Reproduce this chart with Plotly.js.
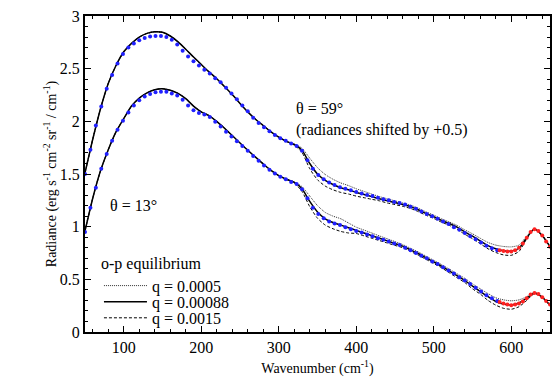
<!DOCTYPE html>
<html>
<head>
<meta charset="utf-8">
<script src="https://cdn.plot.ly/plotly-3.0.1.min.js"></script>
<style>html,body{margin:0;padding:0;background:#fff;}#chart{width:552px;height:379px;}</style>
</head>
<body>
<div id="chart"></div>
<script>
// Model wavenumber grid (cm^-1)
var xModel = [50,60,70,80,90,100,110,120,130,140,150,160,170,180,190,200,210,220,230,240,250,260,270,280,290,300,310,320,330,340,350,360,370,380,390,400,410,420,430,440,450,460,470,480,490,500,510,520,530,540,550,560,570,580,590,600,610,620,630,640,650];

// theta = 59 deg (shifted by +0.5)
var upperQ00088 = [1.51,1.83,2.12,2.36,2.53,2.66,2.74,2.80,2.835,2.85,2.845,2.81,2.755,2.685,2.61,2.54,2.47,2.405,2.33,2.255,2.17,2.09,2.02,1.96,1.90,1.85,1.81,1.78,1.725,1.60,1.50,1.44,1.40,1.37,1.35,1.325,1.305,1.285,1.265,1.245,1.23,1.21,1.19,1.16,1.125,1.095,1.06,1.03,0.995,0.95,0.91,0.865,0.82,0.79,0.772,0.768,0.795,0.895,0.98,0.915,0.81];
var upperQ0005 = [1.51,1.83,2.12,2.36,2.53,2.66,2.74,2.80,2.835,2.85,2.845,2.81,2.755,2.685,2.61,2.54,2.47,2.405,2.33,2.255,2.17,2.09,2.02,1.96,1.90,1.85,1.81,1.785,1.745,1.65,1.56,1.495,1.45,1.415,1.39,1.36,1.335,1.31,1.285,1.265,1.245,1.225,1.205,1.175,1.14,1.11,1.075,1.045,1.012,0.97,0.932,0.89,0.85,0.825,0.812,0.808,0.825,0.91,0.98,0.915,0.81];
var upperQ0015 = [1.51,1.83,2.12,2.36,2.53,2.66,2.74,2.80,2.835,2.85,2.845,2.81,2.755,2.685,2.61,2.54,2.47,2.405,2.33,2.255,2.17,2.09,2.02,1.96,1.90,1.85,1.81,1.775,1.705,1.55,1.445,1.385,1.35,1.325,1.31,1.29,1.275,1.26,1.245,1.225,1.21,1.193,1.173,1.143,1.108,1.078,1.043,1.013,0.975,0.928,0.885,0.838,0.79,0.755,0.732,0.728,0.765,0.885,0.98,0.915,0.81];

// theta = 13 deg
var lowerQ00088 = [0.96,1.27,1.53,1.73,1.90,2.025,2.145,2.22,2.27,2.30,2.31,2.295,2.265,2.215,2.145,2.09,2.055,2.00,1.935,1.865,1.795,1.725,1.66,1.595,1.535,1.485,1.45,1.42,1.36,1.24,1.14,1.075,1.04,1.015,0.99,0.965,0.94,0.915,0.89,0.865,0.84,0.815,0.78,0.745,0.705,0.665,0.625,0.58,0.535,0.49,0.435,0.385,0.335,0.29,0.265,0.256,0.275,0.32,0.37,0.33,0.256];
var lowerQ0005 = [0.96,1.27,1.53,1.73,1.90,2.025,2.145,2.22,2.27,2.30,2.31,2.295,2.265,2.215,2.145,2.09,2.055,2.00,1.935,1.865,1.795,1.725,1.66,1.595,1.535,1.485,1.45,1.425,1.38,1.29,1.20,1.135,1.10,1.075,1.035,0.995,0.968,0.94,0.912,0.885,0.858,0.83,0.795,0.76,0.72,0.68,0.64,0.597,0.553,0.51,0.457,0.41,0.365,0.325,0.305,0.296,0.305,0.335,0.375,0.335,0.26];
var lowerQ0015 = [0.96,1.27,1.53,1.73,1.90,2.025,2.145,2.22,2.27,2.30,2.31,2.295,2.265,2.215,2.145,2.09,2.055,2.00,1.935,1.865,1.795,1.725,1.66,1.595,1.535,1.485,1.45,1.415,1.335,1.19,1.08,1.015,0.98,0.955,0.94,0.935,0.913,0.89,0.868,0.845,0.822,0.80,0.765,0.73,0.69,0.65,0.61,0.563,0.515,0.47,0.41,0.36,0.30,0.255,0.225,0.216,0.24,0.30,0.365,0.325,0.25];

// Observations (blue part)
var xObsBlue = [50,57,64,71,78,85,92,99,106,113,120,127,134,141,148,155,162,169,176,183,190,197,204,211,218,225,232,239,246,253,260,267,274,281,288,295,302,309,316,323,330,337,344,351,358,365,372,379,386,393,400,407,414,421,428,435,442,449,456,463,470,477,484,491,498,505,512,519,526,533,540,547,554,561,568,575,582];
var upperObsBlue = [1.50,1.73,1.96,2.14,2.31,2.44,2.55,2.64,2.70,2.74,2.77,2.79,2.805,2.81,2.81,2.80,2.775,2.73,2.67,2.615,2.57,2.53,2.49,2.455,2.41,2.37,2.32,2.265,2.21,2.15,2.095,2.035,1.985,1.945,1.905,1.87,1.84,1.815,1.79,1.765,1.72,1.63,1.55,1.49,1.45,1.42,1.395,1.375,1.36,1.345,1.33,1.315,1.30,1.29,1.275,1.26,1.25,1.235,1.225,1.21,1.19,1.17,1.145,1.12,1.10,1.075,1.05,1.025,0.995,0.97,0.94,0.91,0.88,0.85,0.82,0.795,0.775];
var lowerObsBlue = [0.95,1.18,1.37,1.55,1.69,1.815,1.92,2.005,2.085,2.15,2.20,2.235,2.26,2.275,2.28,2.28,2.265,2.245,2.205,2.15,2.105,2.08,2.065,2.04,1.995,1.95,1.90,1.855,1.81,1.765,1.72,1.67,1.625,1.58,1.54,1.505,1.475,1.45,1.425,1.405,1.355,1.27,1.18,1.12,1.08,1.05,1.03,1.015,0.995,0.975,0.96,0.945,0.925,0.91,0.89,0.875,0.86,0.84,0.825,0.80,0.775,0.75,0.725,0.70,0.67,0.645,0.615,0.585,0.555,0.52,0.49,0.455,0.42,0.385,0.35,0.32,0.295];

// Observations (red part)
var xObsRed = [585,590,595,600,605,610,615,620,625,630,635,640,645,650];
var upperObsRed = [0.775,0.77,0.765,0.765,0.775,0.80,0.84,0.895,0.95,0.975,0.96,0.915,0.86,0.81];
var lowerObsRed = [0.285,0.27,0.26,0.255,0.26,0.27,0.29,0.32,0.355,0.37,0.36,0.33,0.295,0.26];

var legendNames = ['q = 0.0005','q = 0.00088','q = 0.0015'];
var legendTitle = 'o-p equilibrium';

var FONT = 'Liberation Serif, Times New Roman, serif';

function model(y, name, style, show, leg) {
  return {x: xModel, y: y, type: 'scatter', mode: 'lines', name: name,
          legendgroup: name, showlegend: show, legend: leg,
          line: Object.assign({shape: 'spline', smoothing: 0.6}, style),
          hoverinfo: 'skip'};
}
var sDot = {color: '#333333', width: 1, dash: '1px,1px'};
var sSolid = {color: '#000000', width: 1.5};
var sDash = {color: '#000000', width: 1, dash: '3px,2px'};

function obs(x, y, color) {
  return {x: x, y: y, type: 'scatter', mode: 'markers', showlegend: false,
          marker: {color: color, size: 4, line: {width: 0}}, hoverinfo: 'skip'};
}

var traces = [
  model(upperQ0005, legendNames[0], sDot, true, 'legend'),
  model(upperQ00088, legendNames[1], sSolid, true, 'legend2'),
  model(upperQ0015, legendNames[2], sDash, true, 'legend3'),
  model(lowerQ0005, legendNames[0], sDot, false, 'legend'),
  model(lowerQ00088, legendNames[1], sSolid, false, 'legend2'),
  model(lowerQ0015, legendNames[2], sDash, false, 'legend3'),
  obs(xObsBlue, upperObsBlue, '#2020ff'),
  obs(xObsBlue, lowerObsBlue, '#2020ff'),
  obs(xObsRed, upperObsRed, '#ff2020'),
  obs(xObsRed, lowerObsRed, '#ff2020')
];

var axisCommon = {
  ticks: 'inside', ticklen: 6, tickwidth: 1, tickcolor: '#000',
  showline: true, linewidth: 2, linecolor: '#000', mirror: 'ticks',
  showgrid: false, zeroline: false,
  tickfont: {family: FONT, size: 16, color: '#000'}
};

function leg(y, withTitle) {
  var o = {x: 0.030, y: y, xanchor: 'left', yanchor: 'bottom',
           bgcolor: 'rgba(0,0,0,0)', borderwidth: 0,
           font: {family: FONT, size: 16, color: '#000'}, itemwidth: 43, tracegroupgap: 0};
  if (withTitle) o.title = {text: legendTitle, font: {family: FONT, size: 16, color: '#000'}};
  return o;
}

var layout = {
  width: 552, height: 379,
  margin: {l: 85, r: 2, t: 16, b: 47},
  paper_bgcolor: '#fff', plot_bgcolor: '#fff',
  font: {family: FONT, size: 14, color: '#000'},
  showlegend: true,
  legend: leg(0.0921, true),
  legend2: leg(0.0415, false),
  legend3: leg(-0.0092, false),
  xaxis: Object.assign({}, axisCommon, {
    range: [50, 650], tick0: 0, dtick: 100,
    minor: {dtick: 20, ticks: 'inside', ticklen: 3, tickcolor: '#000'},
    title: {text: 'Wavenumber (cm<sup>-1</sup>)', font: {family: FONT, size: 14}, standoff: 8}
  }),
  yaxis: Object.assign({}, axisCommon, {
    range: [0, 3], tick0: 0, dtick: 0.5,
    minor: {dtick: 0.1, ticks: 'inside', ticklen: 3, tickcolor: '#000'},
    title: {text: 'Radiance (erg s<sup>-1</sup> cm<sup>-2</sup> sr<sup>-1</sup> / cm<sup>-1</sup>)', font: {family: FONT, size: 14}, standoff: 0}
  }),
  annotations: [
    {x: 319.7, y: 2.018, xref: 'x', yref: 'y', xanchor: 'left', yanchor: 'middle', align: 'left', showarrow: false,
     text: 'θ = 59°<br>(radiances shifted by +0.5)', font: {family: FONT, size: 16}},
    {x: 79.7, y: 1.197, xref: 'x', yref: 'y', xanchor: 'left', yanchor: 'middle', showarrow: false, text: 'θ = 13°', font: {family: FONT, size: 16}}
  ]
};

Plotly.newPlot('chart', traces, layout, {staticPlot: true, displayModeBar: false});
</script>
</body>
</html>
